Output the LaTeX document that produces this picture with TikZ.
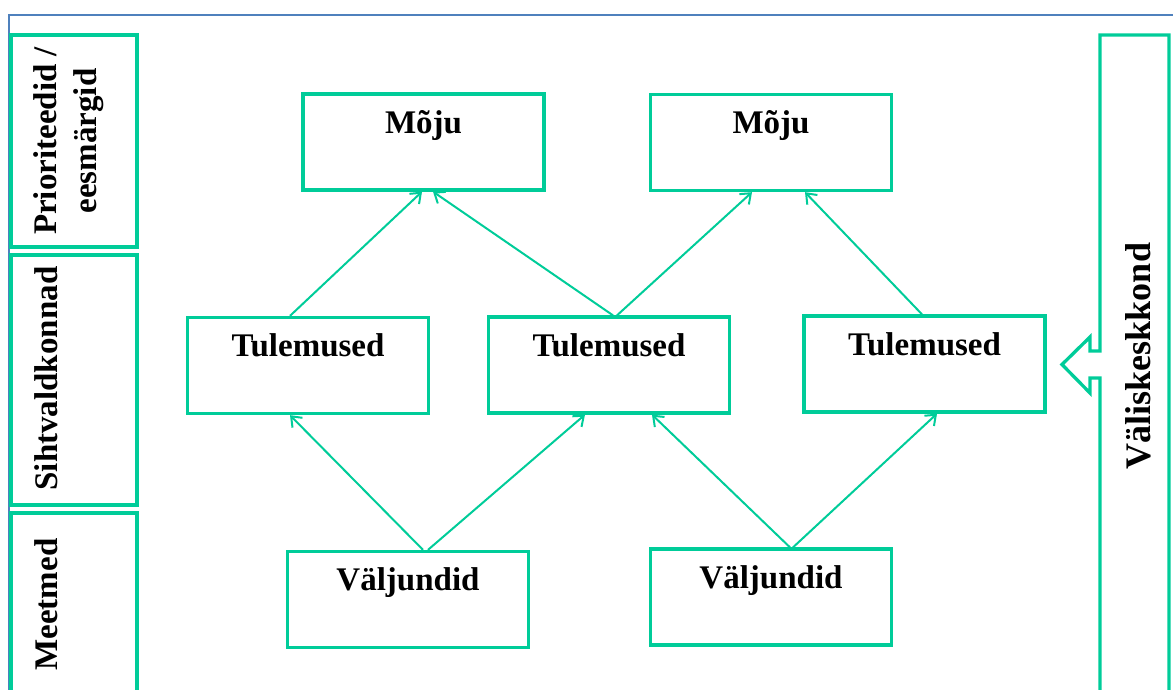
\documentclass[tikz,border=0pt]{standalone}
\usepackage{fontspec}
\setmainfont{Liberation Serif}
\usetikzlibrary{arrows.meta}
\definecolor{grn}{RGB}{0,204,153}
\definecolor{blu}{RGB}{79,129,189}
\begin{document}
\begin{tikzpicture}[x=1pt,y=-1pt,
  box/.style={draw=grn,line width=3.3pt,minimum width=241pt,minimum height=96pt,inner sep=0pt,
    text height=39pt,text depth=57pt,font=\fontsize{33}{40}\selectfont\bfseries},
  lbl/.style={font=\fontsize{33}{40}\selectfont\bfseries,rotate=90,inner sep=0pt,align=center},
  conn/.style={draw=grn,line width=2pt,-{Straight Barb[length=9pt,width=14pt]}},
  side/.style={draw=grn,line width=3.3pt}]
\useasboundingbox (0,0) rectangle (1173,689);
\begin{scope}
\clip (0,0) rectangle (1173,689);
% blue frame
\draw[blu,line width=2pt] (9,700) -- (9,15) -- (1180,15);
% left column boxes
\draw[side] (11,35) rectangle (137,247);
\draw[side] (11,255) rectangle (137,505);
\draw[side] (11,513) rectangle (137,710);
% right box with block arrow
\draw[side,line join=miter] (1100,351) -- (1100,35) -- (1169,35) -- (1169,710) -- (1100,710) -- (1100,378)
  -- (1090,378) -- (1090,393) -- (1062,364.5) -- (1090,337) -- (1090,351) -- cycle;
\end{scope}
% labels
\node[lbl] (prio) at (69,141) {Prioriteedid /\\eesmärgid};
\node[lbl,anchor=base] (siht) at (57,378.5) {Sihtvaldkonnad};
\node[lbl,anchor=base] (meet) at (57,604.5) {Meetmed};
\node[lbl,anchor=base,font=\fontsize{36}{40}\selectfont\bfseries] (valis) at (1150,356) {Väliskeskkond};
% boxes
\node[box] (M1) at (423.5,142) {Mõju};
\node[box] (M2) at (771,142.5) {Mõju};
\node[box] (T1) at (308,365.5) {Tulemused};
\node[box] (T2) at (609,365) {Tulemused};
\node[box] (T3) at (924.5,364) {Tulemused};
\node[box] (V1) at (408,599.5) {Väljundid};
\node[box] (V2) at (771,597) {Väljundid};
% connectors
\draw[conn] ([xshift=-18pt]T1.north) -- ([xshift=-1.5pt]M1.south);
\draw[conn] ([xshift=4pt]T2.north) -- ([xshift=9.5pt]M1.south);
\draw[conn] ([xshift=8pt]T2.north) -- ([xshift=-19pt]M2.south);
\draw[conn] ([xshift=-2.5pt]T3.north) -- ([xshift=34pt]M2.south);
\draw[conn] ([xshift=15pt]V1.north) -- ([xshift=-18pt]T1.south);
\draw[conn] ([xshift=20pt]V1.north) -- ([xshift=-24pt]T2.south);
\draw[conn] ([xshift=19pt]V2.north) -- ([xshift=43pt]T2.south);
\draw[conn] ([xshift=22pt]V2.north) -- ([xshift=12.5pt]T3.south);
\end{tikzpicture}
\end{document}
